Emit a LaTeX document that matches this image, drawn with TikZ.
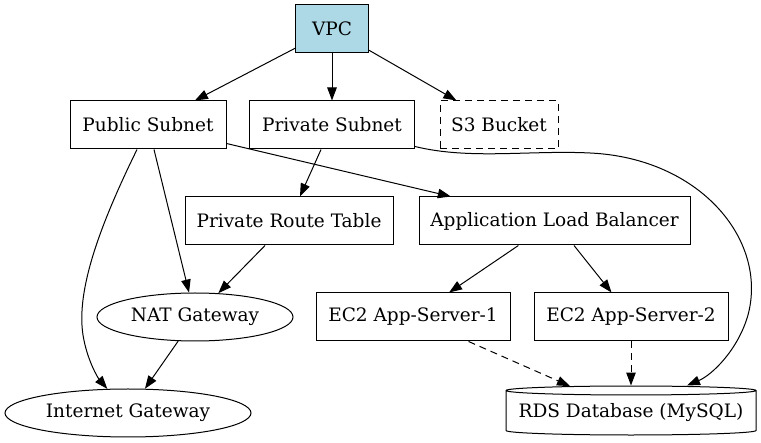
\documentclass[tikz,border=0pt]{standalone}
\usepackage{fontspec}
\setmainfont{DejaVu Serif}
\usetikzlibrary{arrows.meta,shapes.geometric}
\definecolor{vpcblue}{HTML}{ADD8E6}
\begin{document}
\begin{tikzpicture}[
    x=1pt, y=-1pt,
    font=\fontsize{18.5}{22}\selectfont,
    box/.style={draw, rectangle, minimum height=48pt, inner sep=0pt},
    gate/.style={draw, ellipse, minimum height=48pt, inner sep=0pt},
    store/.style={draw, cylinder, shape border rotate=90, aspect=0.04, minimum height=49pt, inner sep=0pt},
    link/.style={draw, -{Triangle[length=13pt,width=9.5pt]}},
    every path/.style={line width=1pt}
]
\useasboundingbox (0,0) rectangle (761,443);

% Top level
\node (vpc) [box, fill=vpcblue, minimum width=73pt] at (332,29) {VPC};

% Subnets and bucket
\node (pub)  [box, minimum width=156pt] at (148,125) {Public Subnet};
\node (priv) [box, minimum width=165pt] at (332,125) {Private Subnet};
\node (s3)   [box, dashed, dash pattern=on 7pt off 5pt, minimum width=118pt] at (499,125) {S3 Bucket};

% Routing and balancing
\node (prt) [box, minimum width=208pt] at (289,221) {Private Route Table};
\node (alb) [box, minimum width=271pt] at (554.5,221) {Application Load Balancer};

% Gateways and servers
\node (nat) [gate, minimum width=196pt] at (195,317) {NAT Gateway};
\node (ec1) [box, minimum width=194pt] at (413,317) {EC2 App-Server-1};
\node (ec2) [box, minimum width=194pt] at (631,317) {EC2 App-Server-2};
\node (igw) [gate, minimum width=246pt] at (128,413) {Internet Gateway};
\node (rds) [store, minimum width=250pt] at (631,413) {RDS Database (MySQL)};

% Connectors
\draw [link] (vpc) -- (pub);
\draw [link] (vpc) -- (priv);
\draw [link] (vpc) -- (s3);
\draw [link] (pub) -- (alb);
\draw [link] (pub) -- (nat);
\draw [link] ([xshift=-11pt]pub.south) .. controls (100,225) and (76,290) .. (83,335)
    .. controls (87,360) and (98,378) .. (igw);
\draw [link] (priv) -- (prt);
\draw [link] ([yshift=3pt]priv.south east) .. controls (470,160) and (530,150) .. (590,153)
    .. controls (700,158) and (768,240) .. (748,315)
    .. controls (738,350) and (712,375) .. ([xshift=56pt]rds.north);
\draw [link] (prt) -- (nat);
\draw [link] (nat) -- (igw);
\draw [link] (alb) -- (ec1);
\draw [link] (alb) -- (ec2);
\draw [link, dashed, dash pattern=on 7pt off 5pt] (ec1) -- (rds);
\draw [link, dashed, dash pattern=on 7pt off 5pt] (ec2) -- (rds);

\end{tikzpicture}
\end{document}
